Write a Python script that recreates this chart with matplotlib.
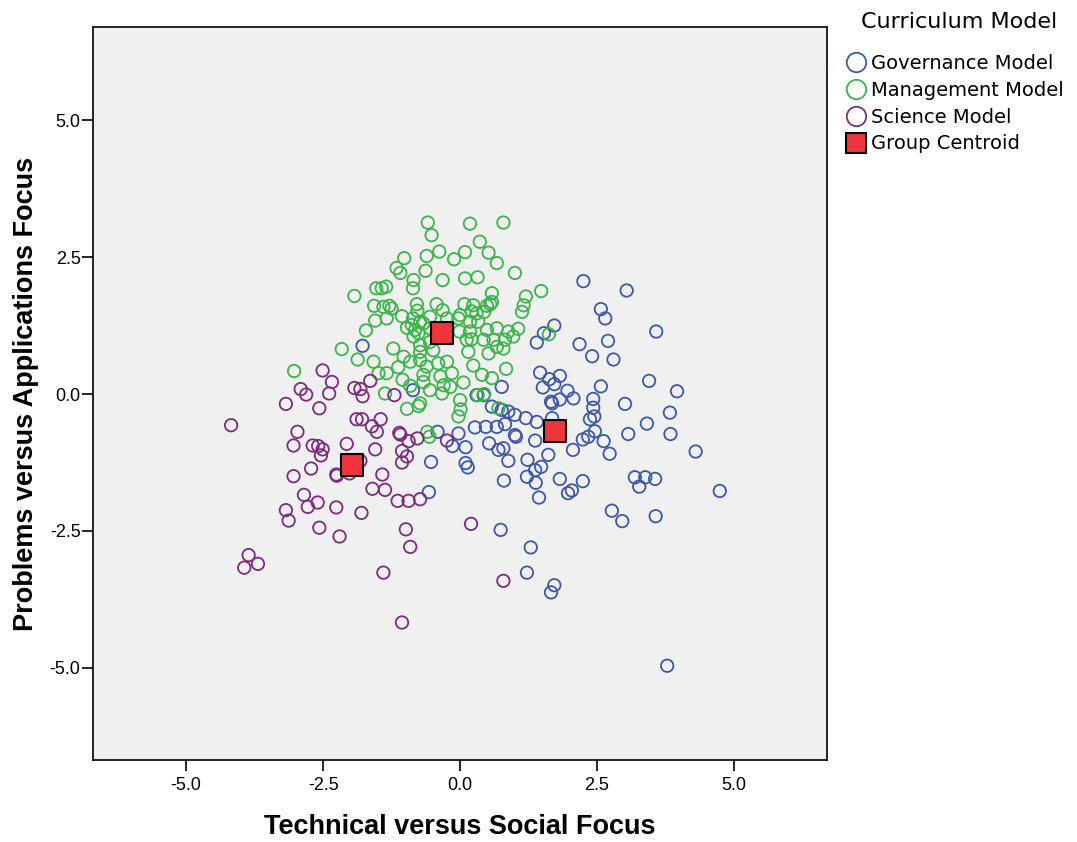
import numpy as np
import matplotlib
matplotlib.use("Agg")
import matplotlib.pyplot as plt
from matplotlib.lines import Line2D

# discriminant scores (function 1 = x, function 2 = y)
gov_x = [-1.78, -0.86, 0.30, 0.43, 0.76, 1.46, 1.82, 1.63, 1.72, 1.51, 1.96, 2.07, 1.82, 1.66,
         1.68, 0.58, 0.76, 0.88, 1.00, 1.20, 1.40, 1.68, 0.27, 0.47, 0.67, 0.82, -0.41, -0.03,
         1.00, 1.02, -0.14, 0.10, 0.53, 0.70, 0.79, 1.37, 2.06, 2.24, 2.34, 1.61, 0.88, 1.23,
         1.48, 1.37, -0.53, 0.10, 0.14, 0.80, 1.22, 1.38, 1.82, 2.24, 1.97, 2.04, 1.44, -0.57,
         0.74, 1.29, 1.22, 1.72, 1.66, 2.25, 3.04, 2.57, 2.65, 3.58, 1.72, 1.53, 1.40, 2.18,
         2.70, 2.41, 2.80, 2.57, 3.45, 3.96, 2.43, 2.43, 2.45, 2.37, 3.01, 3.83, 3.41, 2.46,
         2.62, 3.07, 3.84, 2.73, 4.30, 3.19, 3.38, 3.56, 3.27, 4.74, 2.77, 2.96, 3.57, 3.78]
gov_y = [0.88, 0.07, -0.02, -0.02, 0.13, 0.39, 0.33, 0.27, 0.18, 0.12, 0.06, -0.08, -0.10, -0.14,
         -0.17, -0.23, -0.29, -0.32, -0.38, -0.44, -0.51, -0.44, -0.61, -0.60, -0.60, -0.55, -0.69, -0.72,
         -0.75, -0.78, -0.95, -0.97, -0.90, -1.02, -0.99, -0.85, -1.02, -0.83, -0.78, -1.11, -1.22, -1.20,
         -1.33, -1.39, -1.24, -1.26, -1.34, -1.58, -1.51, -1.62, -1.55, -1.59, -1.81, -1.76, -1.89, -1.79,
         -2.48, -2.80, -3.26, -3.49, -3.62, 2.06, 1.89, 1.55, 1.38, 1.14, 1.25, 1.11, 0.94, 0.91,
         0.97, 0.69, 0.63, 0.14, 0.24, 0.05, -0.09, -0.25, -0.41, -0.46, -0.18, -0.34, -0.54, -0.68,
         -0.86, -0.73, -0.73, -1.09, -1.05, -1.52, -1.52, -1.55, -1.69, -1.77, -2.13, -2.32, -2.23, -4.96]

man_x = [-0.59, 0.18, 0.79, -0.52, 0.36, -0.38, -0.61, -1.02, -0.11, 0.09, 0.52, 0.67, -1.16, -1.09,
         -0.63, -0.85, -0.86, -0.32, 0.09, 0.32, 1.00, -1.93, -1.53, -1.43, -1.35, 0.58, 0.58, 0.55,
         1.20, 1.16, 1.13, -1.57, -1.40, -1.29, -1.25, -0.79, -0.78, -0.43, -0.32, 0.08, 0.24, 0.21,
         0.30, 0.44, 0.49, -1.06, -1.34, -1.55, -0.55, -0.73, -0.86, -0.24, -0.03, 0.00, 0.18, 0.33,
         -1.72, -0.97, -0.88, -0.82, -0.85, -0.76, -0.67, -0.55, -0.01, 0.18, 0.12, 0.21, 0.49, 0.67,
         0.88, 1.06, 0.97, 0.82, 0.43, 0.61, 0.67, 0.79, -2.16, -1.22, -0.73, -0.55, -0.49, -0.73,
         0.15, 0.52, -1.87, -1.58, -1.03, -0.91, -0.73, -0.61, -0.40, -0.24, -1.13, 0.24, 0.84, -1.49,
         -1.34, -0.67, -0.67, -0.36, -0.15, -0.30, -0.18, 0.06, -1.05, 0.40, 0.58, -1.37, -0.55, 0.00,
         -0.91, -0.33, 0.32, 0.44, -0.97, -0.76, -0.73, 0.01, -0.03, 0.70, -0.60, -0.56, -3.03, 1.48,
         1.62]
man_y = [3.13, 3.11, 3.13, 2.90, 2.78, 2.60, 2.52, 2.48, 2.46, 2.59, 2.58, 2.39, 2.30, 2.21,
         2.25, 2.08, 1.93, 2.08, 2.11, 2.13, 2.21, 1.79, 1.93, 1.93, 1.96, 1.84, 1.68, 1.64,
         1.78, 1.62, 1.50, 1.61, 1.59, 1.61, 1.56, 1.64, 1.52, 1.64, 1.53, 1.64, 1.62, 1.51,
         1.47, 1.50, 1.61, 1.42, 1.38, 1.34, 1.41, 1.32, 1.38, 1.38, 1.38, 1.44, 1.32, 1.32,
         1.16, 1.21, 1.26, 1.17, 1.05, 1.11, 1.29, 1.20, 1.14, 1.14, 0.99, 1.00, 1.17, 1.20,
         1.14, 1.19, 1.05, 0.99, 0.99, 0.99, 0.86, 0.83, 0.82, 0.83, 0.89, 0.95, 0.80, 0.77,
         0.77, 0.74, 0.63, 0.59, 0.68, 0.59, 0.62, 0.50, 0.56, 0.59, 0.49, 0.52, 0.46, 0.38,
         0.38, 0.35, 0.22, 0.32, 0.38, 0.16, 0.13, 0.21, 0.26, 0.35, 0.29, 0.01, 0.07, -0.11,
         0.15, 0.01, -0.02, 0.00, -0.27, -0.22, -0.17, -0.28, -0.41, -0.26, -0.69, -0.78, 0.42, 1.88,
         1.09]

sci_x = [-2.51, -2.34, -2.91, -2.81, -2.39, -3.18, -2.57, -1.93, -1.82, -1.78, -1.64, -4.18, -2.97,
         -3.04, -2.69, -2.59, -2.51, -2.54, -2.07, -1.89, -1.79, -1.61, -1.52, -1.45, -1.55, -1.11,
         -1.09, -1.06, -0.97, -1.06, -2.72, -3.04, -2.26, -2.25, -2.02, -1.82, -1.42, -1.60, -1.37,
         -1.14, -0.94, -2.85, -2.60, -2.78, -2.26, -3.18, -3.13, -1.80, -2.57, -2.20, -0.99, -0.91,
         -3.86, -3.69, -3.94, -1.40, -1.06, -1.20, -0.94, -0.78, -0.24, -0.73, 0.20, 0.79]
sci_y = [0.43, 0.22, 0.09, -0.01, 0.01, -0.18, -0.26, 0.11, 0.09, -0.04, 0.24, -0.57, -0.69,
         -0.94, -0.94, -0.95, -1.01, -1.12, -0.91, -0.46, -0.46, -0.59, -0.69, -0.46, -1.01, -0.71,
         -0.74, -1.04, -1.14, -1.25, -1.36, -1.50, -1.47, -1.49, -1.45, -1.22, -1.47, -1.73, -1.75,
         -1.95, -1.95, -1.84, -1.98, -2.06, -2.07, -2.12, -2.31, -2.17, -2.44, -2.60, -2.47, -2.79,
         -2.94, -3.10, -3.17, -3.26, -4.17, -0.02, -0.86, -0.81, -0.85, -1.92, -2.37, -3.41]

centroid_x = [1.73, -0.33, -1.98]
centroid_y = [-0.67, 1.11, -1.29]

groups = ["Governance Model", "Management Model", "Science Model"]
colors = ["#3d58ab", "#3bb54a", "#7d2a83"]
ticks = [-5.0, -2.5, 0.0, 2.5, 5.0]

#%%
fig = plt.figure(figsize=(10.77, 8.42), dpi=100)
ax = fig.add_axes([0.0864, 0.0974, 0.6816, 0.8706])
ax.set_facecolor("#f0f0f0")

for gx, gy, col in zip([gov_x, man_x, sci_x], [gov_y, man_y, sci_y], colors):
    ax.scatter(gx, gy, s=80, facecolors="none", edgecolors=col, linewidths=1.3, zorder=2)
ax.scatter(centroid_x, centroid_y, s=230, marker="s", facecolor="#f0343c",
           edgecolor="black", linewidths=1.5, zorder=3)

ax.set_xlim(-6.7, 6.7)
ax.set_ylim(-6.68, 6.7)
ax.set_xticks(ticks)
ax.set_yticks(ticks)
ax.set_xticklabels(["{:.1f}".format(t) for t in ticks], fontfamily="Liberation Sans", fontsize=13)
ax.set_yticklabels(["{:.1f}".format(t) for t in ticks], fontfamily="Liberation Sans", fontsize=13)
ax.tick_params(direction="out", length=8, width=1.2)
ax.tick_params(axis="x", pad=4)
ax.tick_params(axis="y", pad=1)
for sp in ax.spines.values():
    sp.set_linewidth(1.2)

ax.set_xlabel("Technical versus Social Focus", fontfamily="Liberation Sans",
              fontweight="bold", fontsize=19.5, labelpad=15)
ax.set_ylabel("Problems versus Applications Focus", fontfamily="Liberation Sans",
              fontweight="bold", fontsize=19.5, labelpad=8)

# legend sits to the right of the plot, title drawn separately
fig.text(959 / 1077, 1 - 22 / 842, "Curriculum Model", ha="center", va="center",
         fontfamily="DejaVu Sans", fontsize=16)
handles = [Line2D([], [], ls="none", marker="o", ms=14, mfc="none", mec=c, mew=1.3, label=g)
           for g, c in zip(groups, colors)]
handles.append(Line2D([], [], ls="none", marker="s", ms=14, mfc="#f0343c", mec="black",
                      mew=1.5, label="Group Centroid"))
leg = fig.legend(handles=handles, loc="upper left", bbox_to_anchor=(0.786, 1 - 54 / 842),
                 frameon=False, handletextpad=0.25, handlelength=1.0,
                 labelspacing=0.4, borderaxespad=0, borderpad=0,
                 prop={"family": "DejaVu Sans", "size": 14})

fig.savefig("out.png", dpi=100)
